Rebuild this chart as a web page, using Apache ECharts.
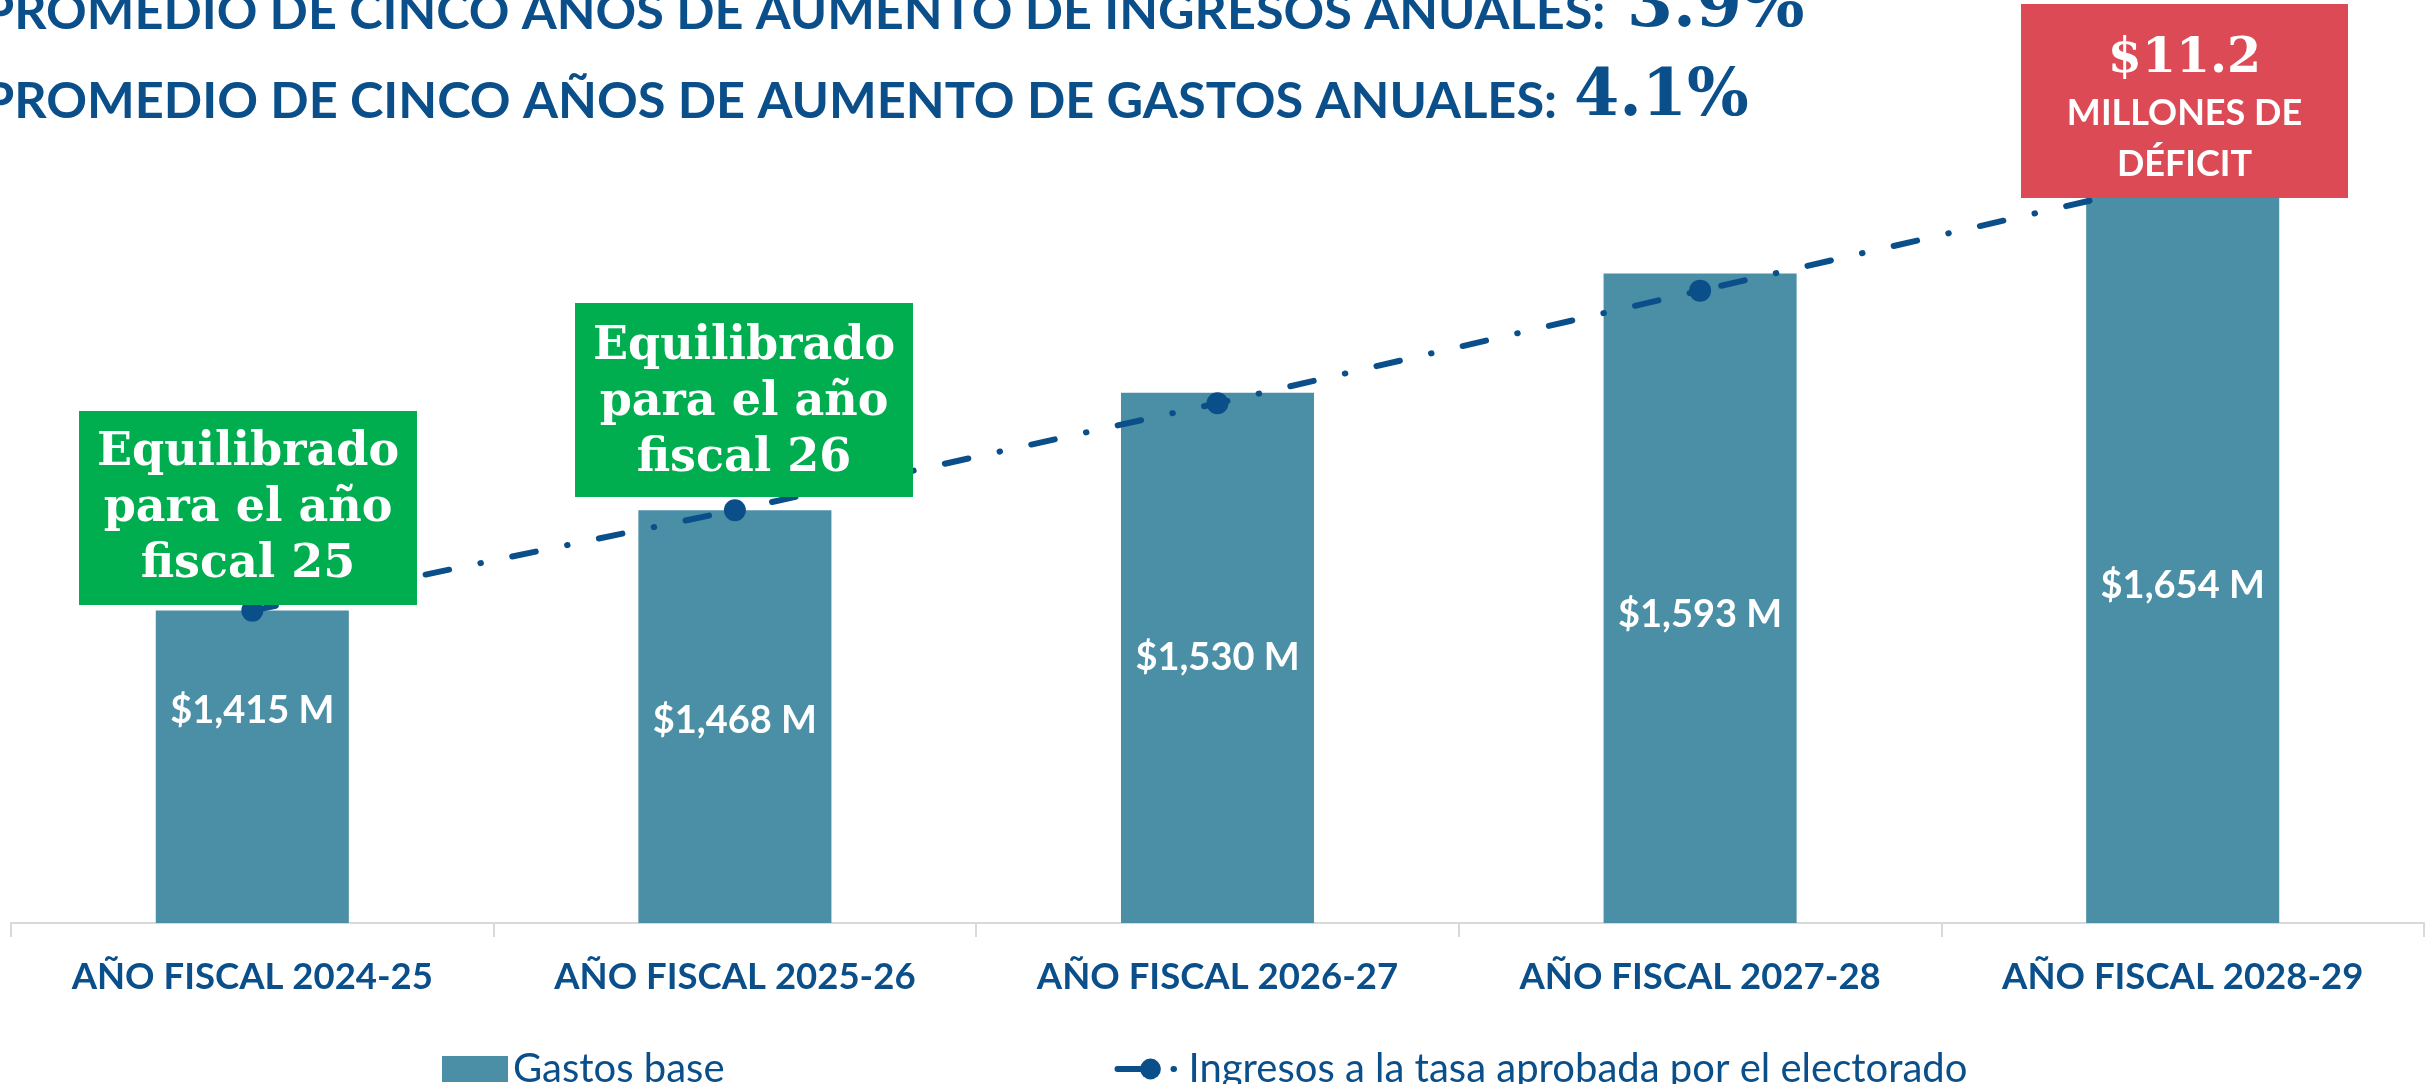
<!DOCTYPE html>
<html>
<head>
<meta charset="utf-8">
<script src="https://cdn.jsdelivr.net/npm/echarts@6/dist/echarts.min.js"></script>
<style>
html,body{margin:0;padding:0;background:#ffffff;}
#chart{width:2433px;height:1084px;}
</style>
</head>
<body>
<div id="chart"></div>
<script>
// ---------- data ----------
const categories = ['AÑO FISCAL 2024-25', 'AÑO FISCAL 2025-26', 'AÑO FISCAL 2026-27', 'AÑO FISCAL 2027-28', 'AÑO FISCAL 2028-29'];
const expenses = [1415, 1468, 1530, 1593, 1654];
const revenues = [1415, 1468, 1524.5, 1584, 1642.8];
const seriesNames = ['Gastos base', 'Ingresos a la tasa aprobada por el electorado'];
const titleLines = ['PROMEDIO DE CINCO AÑOS DE AUMENTO DE INGRESOS ANUALES:', 'PROMEDIO DE CINCO AÑOS DE AUMENTO DE GASTOS ANUALES:'];
const titleRates = ['3.9%', '4.1%'];
const balancedNotes = ['Equilibrado\npara el año\nfiscal 25', 'Equilibrado\npara el año\nfiscal 26'];
const deficitAmount = '$11.2';
const deficitWords = ['MILLONES DE', 'DÉFICIT'];

// ---------- styling ----------
const BLUE = '#0b4f8a';
const BAR = '#4a8fa5';
const GREEN = '#00ae50';
const RED = '#db4a55';
const labelShiftY = [-56, 4, 0, 16, 45];
const LINE_DASH = [24, 32, 0.5, 32];

const chart = echarts.init(document.getElementById('chart'), null, {renderer: 'canvas'});

const barData = expenses.map((v, i) => ({
  value: v,
  label: {offset: [0, labelShiftY[i]]}
}));

const option = {
  backgroundColor: '#ffffff',
  animation: false,
  grid: {left: 11, right: 9, top: 71, bottom: 161, containLabel: false},
  legend: {
    left: 437,
    top: 1044,
    itemWidth: 66,
    itemHeight: 26,
    itemGap: 390,
    textStyle: {fontFamily: 'Lato', fontSize: 40, color: BLUE},
    data: [
      {name: seriesNames[0], icon: 'rect'},
      {name: seriesNames[1], lineStyle: {width: 6, color: BLUE, type: LINE_DASH, cap: 'round'}}
    ]
  },
  xAxis: {
    type: 'category',
    data: categories,
    boundaryGap: true,
    axisLine: {show: true, lineStyle: {color: '#d9d9d9', width: 2}},
    axisTick: {show: true, alignWithLabel: false, length: 14, lineStyle: {color: '#d9d9d9', width: 2}},
    axisLabel: {margin: 36, fontFamily: 'Lato', fontWeight: 'bold', fontSize: 36.5, color: BLUE, interval: 0},
    splitLine: {show: false}
  },
  yAxis: {
    type: 'value',
    min: 1250,
    max: 1700,
    show: false,
    splitLine: {show: false}
  },
  series: [
    {
      name: seriesNames[0],
      type: 'bar',
      data: barData,
      barWidth: '40%',
      itemStyle: {color: BAR},
      label: {
        show: true,
        position: 'inside',
        fontFamily: 'Lato',
        fontWeight: 'bold',
        fontSize: 38,
        color: '#ffffff',
        formatter: p => '$' + p.value.toLocaleString('en-US') + ' M'
      },
      z: 2
    },
    {
      name: seriesNames[1],
      type: 'line',
      data: revenues,
      symbol: 'circle',
      symbolSize: 22,
      showSymbol: true,
      itemStyle: {color: BLUE},
      lineStyle: {color: BLUE, width: 6, type: LINE_DASH, cap: 'round'},
      z: 3
    }
  ],
  graphic: [
    {type: 'text', x: -17, y: 13, z: 100, style: {text: titleLines[0], font: 'bold 50.4px Lato', fill: BLUE, align: 'left', verticalAlign: 'middle'}},
    {type: 'text', x: 1627, y: 9, z: 100, style: {text: titleRates[0], font: 'bold 66px "DejaVu Serif"', fill: BLUE, align: 'left', verticalAlign: 'middle'}},
    {type: 'text', x: -17, y: 102, z: 100, style: {text: titleLines[1], font: 'bold 50.5px Lato', fill: BLUE, align: 'left', verticalAlign: 'middle'}},
    {type: 'text', x: 1574, y: 98, z: 100, style: {text: titleRates[1], font: 'bold 65px "DejaVu Serif"', fill: BLUE, align: 'left', verticalAlign: 'middle'}},

    {type: 'rect', z: 100, shape: {x: 79, y: 411, width: 338, height: 194}, style: {fill: GREEN}},
    {type: 'text', z: 101, x: 248, y: 509, style: {text: balancedNotes[0], font: 'bold 46px "DejaVu Serif"', lineHeight: 56, fill: '#ffffff', align: 'center', verticalAlign: 'middle'}},

    {type: 'rect', z: 100, shape: {x: 575, y: 303, width: 338, height: 194}, style: {fill: GREEN}},
    {type: 'text', z: 101, x: 744, y: 403, style: {text: balancedNotes[1], font: 'bold 46px "DejaVu Serif"', lineHeight: 56, fill: '#ffffff', align: 'center', verticalAlign: 'middle'}},

    {type: 'rect', z: 100, shape: {x: 2021, y: 4, width: 327, height: 194}, style: {fill: RED}},
    {type: 'text', z: 101, x: 2184.5, y: 110, style: {
      text: '{a|' + deficitAmount + '}\n{b|' + deficitWords[0] + '}\n{b|' + deficitWords[1] + '}',
      align: 'center', verticalAlign: 'middle', fill: '#ffffff',
      rich: {
        a: {font: 'bold 49px "DejaVu Serif"', lineHeight: 58, fill: '#ffffff', align: 'center'},
        b: {font: 'bold 36px Lato', lineHeight: 51, fill: '#ffffff', align: 'center'}
      }
    }}
  ]
};

chart.setOption(option);
</script>
</body>
</html>
